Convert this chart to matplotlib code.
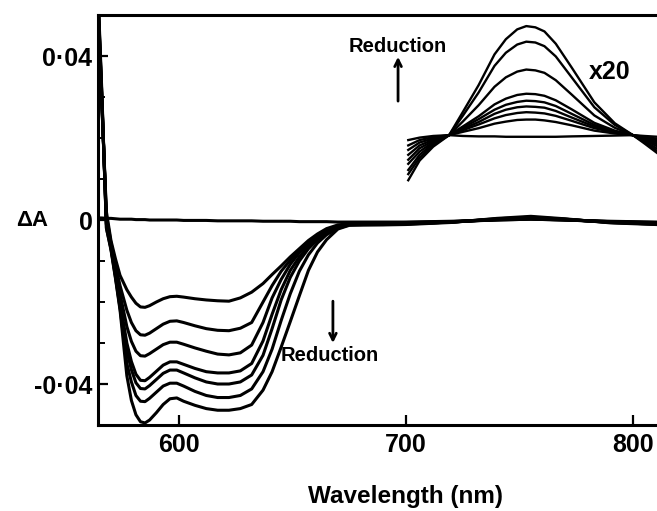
import matplotlib
matplotlib.use("Agg")
import matplotlib.pyplot as plt

# visible-region difference spectra (delta A), one list per reduction step
wl = [564, 566, 568, 570, 572, 574, 577, 579, 581, 583,
      585, 587, 590, 593, 596, 599, 602, 607, 612, 617,
      622, 627, 632, 637, 641, 645, 649, 653, 657, 661,
      665, 670, 675, 680, 690, 700, 720, 740, 755, 770,
      790, 810]

c0 = [0.0005, 0.0005, 0.0004, 0.0004, 0.0003, 0.0002, 0.0002, 0.0002, 0.0001, 0.0001,
      0.0001, 0.0000, 0.0000, 0.0000, 0.0000, 0.0000, -0.0001, -0.0001, -0.0001, -0.0002,
      -0.0002, -0.0002, -0.0002, -0.0003, -0.0003, -0.0003, -0.0003, -0.0004, -0.0004, -0.0004,
      -0.0004, -0.0005, -0.0005, -0.0005, -0.0005, -0.0005, -0.0003, 0.0000, 0.0002, 0.0000,
      -0.0003, -0.0005]
c1 = [0.055, 0.028, 0.002, -0.0050, -0.0095, -0.0135, -0.0170, -0.0188, -0.0203, -0.0212,
      -0.0213, -0.0209, -0.0200, -0.0192, -0.0187, -0.0186, -0.0188, -0.0192, -0.0195, -0.0197,
      -0.0198, -0.0190, -0.0176, -0.0155, -0.0133, -0.0112, -0.0090, -0.0070, -0.0050, -0.0034,
      -0.0021, -0.0012, -0.0009, -0.0008, -0.0007, -0.0006, -0.0004, 0.0000, 0.0002, 0.0000,
      -0.0004, -0.0006]
c2 = [0.056, 0.028, 0.001, -0.0055, -0.0110, -0.0160, -0.0220, -0.0250, -0.0270, -0.0280,
      -0.0281, -0.0276, -0.0265, -0.0254, -0.0247, -0.0246, -0.0250, -0.0258, -0.0265, -0.0269,
      -0.0270, -0.0264, -0.0250, -0.0200, -0.0160, -0.0125, -0.0098, -0.0075, -0.0055, -0.0038,
      -0.0025, -0.0014, -0.0010, -0.0009, -0.0008, -0.0007, -0.0004, 0.0001, 0.0003, 0.0000,
      -0.0004, -0.0007]
c3 = [0.057, 0.029, 0.000, -0.0060, -0.0120, -0.0180, -0.0260, -0.0296, -0.0320, -0.0331,
      -0.0332, -0.0326, -0.0315, -0.0304, -0.0298, -0.0298, -0.0303, -0.0312, -0.0320, -0.0327,
      -0.0329, -0.0324, -0.0305, -0.0250, -0.0190, -0.0145, -0.0108, -0.0080, -0.0058, -0.0040,
      -0.0027, -0.0015, -0.0010, -0.0010, -0.0009, -0.0008, -0.0005, 0.0001, 0.0004, 0.0001,
      -0.0005, -0.0008]
c4 = [0.058, 0.029, -0.001, -0.0065, -0.0130, -0.0200, -0.0300, -0.0345, -0.0376, -0.0391,
      -0.0392, -0.0384, -0.0369, -0.0354, -0.0346, -0.0346, -0.0352, -0.0362, -0.0370, -0.0373,
      -0.0373, -0.0368, -0.0350, -0.0295, -0.0230, -0.0170, -0.0123, -0.0090, -0.0064, -0.0044,
      -0.0030, -0.0017, -0.0011, -0.0011, -0.0010, -0.0009, -0.0005, 0.0002, 0.0005, 0.0001,
      -0.0005, -0.0009]
c5 = [0.058, 0.030, -0.001, -0.0068, -0.0135, -0.0210, -0.0320, -0.0365, -0.0397, -0.0411,
      -0.0412, -0.0404, -0.0389, -0.0374, -0.0366, -0.0366, -0.0373, -0.0385, -0.0395, -0.0400,
      -0.0400, -0.0395, -0.0378, -0.0330, -0.0265, -0.0195, -0.0140, -0.0100, -0.0070, -0.0048,
      -0.0032, -0.0018, -0.0011, -0.0011, -0.0010, -0.0009, -0.0005, 0.0002, 0.0006, 0.0002,
      -0.0006, -0.0010]
c6 = [0.059, 0.030, -0.002, -0.0070, -0.0140, -0.0215, -0.0350, -0.0395, -0.0428, -0.0442,
      -0.0443, -0.0435, -0.0420, -0.0405, -0.0398, -0.0398, -0.0405, -0.0418, -0.0428, -0.0433,
      -0.0433, -0.0428, -0.0412, -0.0370, -0.0315, -0.0245, -0.0180, -0.0125, -0.0085, -0.0056,
      -0.0036, -0.0020, -0.0012, -0.0012, -0.0011, -0.0010, -0.0005, 0.0003, 0.0007, 0.0002,
      -0.0006, -0.0010]
c7 = [0.060, 0.031, -0.002, -0.0073, -0.0143, -0.0220, -0.0380, -0.0440, -0.0475, -0.0492,
      -0.0495, -0.0488, -0.0470, -0.0450, -0.0436, -0.0434, -0.0442, -0.0452, -0.0460, -0.0464,
      -0.0464, -0.0460, -0.0450, -0.0415, -0.0370, -0.0310, -0.0248, -0.0185, -0.0123, -0.0078,
      -0.0048, -0.0022, -0.0013, -0.0012, -0.0012, -0.0011, -0.0006, 0.0004, 0.0009, 0.0003,
      -0.0007, -0.0011]
curves = [c0, c1, c2, c3, c4, c5, c6, c7]

# near-IR band, already multiplied by 20 (drawn above the main traces)
nir_wl = [701, 706, 712, 719, 725, 732, 739, 744, 749, 753,
          757, 761, 766, 773, 783, 792, 800, 805, 811]
n0 = [-0.0110, -0.0062, -0.0028, 0, 0.0056, 0.0122, 0.0197, 0.0234, 0.0258, 0.0266,
      0.0263, 0.0253, 0.0223, 0.0165, 0.0080, 0.0029, 0, -0.0020, -0.0045]
n1 = [-0.0095, -0.0055, -0.0024, 0, 0.0047, 0.0104, 0.0169, 0.0201, 0.0221, 0.0228,
      0.0226, 0.0217, 0.0192, 0.0141, 0.0068, 0.0025, 0, -0.0017, -0.0040]
n2 = [-0.0085, -0.0048, -0.0020, 0, 0.0033, 0.0073, 0.0118, 0.0141, 0.0155, 0.0160,
      0.0158, 0.0152, 0.0134, 0.0099, 0.0048, 0.0018, 0, -0.0015, -0.0034]
n3 = [-0.0070, -0.0040, -0.0017, 0, 0.0021, 0.0046, 0.0075, 0.0089, 0.0098, 0.0101,
      0.0100, 0.0096, 0.0085, 0.0063, 0.0030, 0.0011, 0, -0.0012, -0.0028]
n4 = [-0.0060, -0.0032, -0.0014, 0, 0.0018, 0.0039, 0.0062, 0.0074, 0.0081, 0.0084,
      0.0083, 0.0080, 0.0071, 0.0052, 0.0025, 0.0009, 0, -0.0010, -0.0023]
n5 = [-0.0048, -0.0025, -0.0011, 0, 0.0015, 0.0032, 0.0052, 0.0062, 0.0068, 0.0070,
      0.0069, 0.0067, 0.0059, 0.0043, 0.0021, 0.0008, 0, -0.0008, -0.0018]
n6 = [-0.0036, -0.0018, -0.0008, 0, 0.0012, 0.0026, 0.0041, 0.0049, 0.0054, 0.0056,
      0.0055, 0.0053, 0.0047, 0.0035, 0.0017, 0.0006, 0, -0.0006, -0.0013]
n7 = [-0.0025, -0.0012, -0.0005, 0, 0.0008, 0.0017, 0.0028, 0.0033, 0.0037, 0.0038,
      0.0038, 0.0036, 0.0032, 0.0024, 0.0011, 0.0004, 0, -0.0004, -0.0009]
n8 = [-0.0012, -0.0006, -0.0002, 0, -0.0002, -0.0003, -0.0003, -0.0004, -0.0004, -0.0004,
      -0.0004, -0.0004, -0.0004, -0.0003, -0.0002, -0.0001, 0, -0.0002, -0.0004]
nir_curves = [n0, n1, n2, n3, n4, n5, n6, n7, n8]
NIR_OFFSET = 0.0207

yticks = [-0.04, 0, 0.04]
ytick_labels = ["-0\u00b704", "0", "0\u00b704"]
xticks = [600, 700, 800]

plt.rcParams["font.family"] = ["Liberation Sans", "DejaVu Sans"]
plt.rcParams["font.weight"] = "bold"

fig = plt.figure(figsize=(6.57, 5.11), dpi=100)
ax = fig.add_axes([0.1492, 0.1683, 0.8508, 0.8023])

for c in curves:
    ax.plot(wl, c, color="black", lw=2.2, solid_joinstyle="round")
for n in nir_curves:
    ax.plot(nir_wl, [NIR_OFFSET + v for v in n], color="black", lw=1.7,
            solid_joinstyle="round")

ax.set_xlim(564.3, 810.6)
ax.set_ylim(-0.05, 0.05)

ax.spines["right"].set_visible(False)
for s in ["left", "top", "bottom"]:
    ax.spines[s].set_linewidth(2.2)

ax.set_xticks(xticks)
ax.set_xticklabels([str(x) for x in xticks])
ax.set_yticks(yticks)
ax.set_yticklabels(ytick_labels)
ax.set_yticks([-0.03, -0.02, -0.01, 0.01, 0.02, 0.03], minor=True)
ax.tick_params(axis="both", which="major", direction="in", length=7, width=1.6,
               labelsize=18)
ax.tick_params(axis="y", which="minor", direction="in", length=5, width=1.4)
ax.tick_params(axis="x", which="major", pad=6)
ax.tick_params(axis="y", which="major", pad=4)

# annotations
ax.text(696.5, 0.0424, "Reduction", fontsize=14.5, ha="center", va="center")
ax.annotate("", xy=(696.5, 0.0398), xytext=(696.5, 0.0290),
            arrowprops=dict(arrowstyle="->", lw=2, color="black",
                            shrinkA=0, shrinkB=0, mutation_scale=12))
ax.text(789.9, 0.0361, "x20", fontsize=18, ha="center", va="center")
ax.text(666.5, -0.0330, "Reduction", fontsize=14.5, ha="center", va="center")
ax.annotate("", xy=(667.8, -0.0300), xytext=(667.8, -0.0198),
            arrowprops=dict(arrowstyle="->", lw=2, color="black",
                            shrinkA=0, shrinkB=0, mutation_scale=12))

fig.text(32 / 657, 1 - 220 / 511, "\u0394A", fontsize=16, ha="center", va="center")
fig.text(405 / 657, 1 - 496 / 511, "Wavelength (nm)", fontsize=17.5,
         ha="center", va="center")

fig.savefig("out.png", dpi=100)
